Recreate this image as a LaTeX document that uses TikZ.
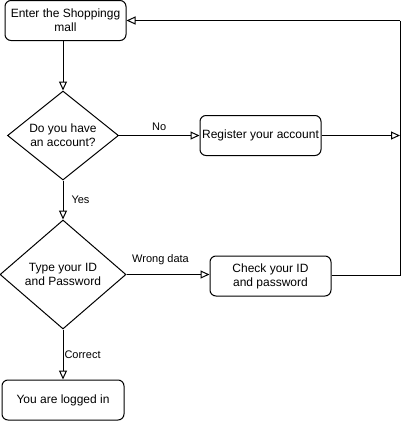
\documentclass[tikz,border=0pt]{standalone}
\usepackage{fontspec}
\setmainfont{Liberation Sans}
\usetikzlibrary{shapes.geometric,arrows.meta}

\begin{document}
\begin{tikzpicture}[x=1pt,y=-1pt,line width=1pt,
  box/.style={draw,rounded corners=6pt,minimum width=121pt,minimum height=40pt,
    align=center,inner sep=1pt,font=\fontsize{12}{14}\selectfont},
  decision/.style={draw,diamond,inner sep=0pt,align=center,
    font=\fontsize{12}{14}\selectfont},
  flow/.style={-{Triangle[open,length=9pt,width=8pt]}},
  lbl/.style={font=\fontsize{11}{13}\selectfont,inner sep=1pt}]
\useasboundingbox (0,0) rectangle (411,421);
 \node[box] (enter) at (65.5,20.5) {Enter the Shoppingg\\mall};
 \node[decision,aspect=1.23,minimum width=111pt,minimum height=89pt] (account) at (63,135.5) {Do you have\\an account?};
 \node[box] (register) at (260.5,135.5) {Register your account};
 \node[decision,aspect=1.15,minimum width=126pt,minimum height=109pt] (login) at (63,274.5) {Type your ID\\and Password};
 \node[box] (check) at (270.5,276) {Check your ID\\and password};
 \node[box,minimum width=122pt] (done) at (63,400) {You are logged in};
 \coordinate (back) at (400,275);
 \coordinate (top) at (400,20.5);
  \draw[flow] (enter.south -| account) -- (account.north);
  \draw[flow] (account.east) -- node[lbl,above=3pt]{No} (account.east -| register.west);
  \draw[flow] (register.east) -- (register.east -| back);
  \draw[flow] (account.south) -- node[lbl,right=7pt]{Yes} (login.north);
  \draw[flow] (login.east) -- node[lbl,pos=0.41,above=8pt]{Wrong data} (login.east -| check.west);
  \draw (check.east |- back) -- (back) -- (top);
  \draw[flow] (top) -- (enter.east);
  \draw[flow] (login.south) -- node[lbl,right=0pt]{Correct} (done.north);
\end{tikzpicture}
\end{document}
